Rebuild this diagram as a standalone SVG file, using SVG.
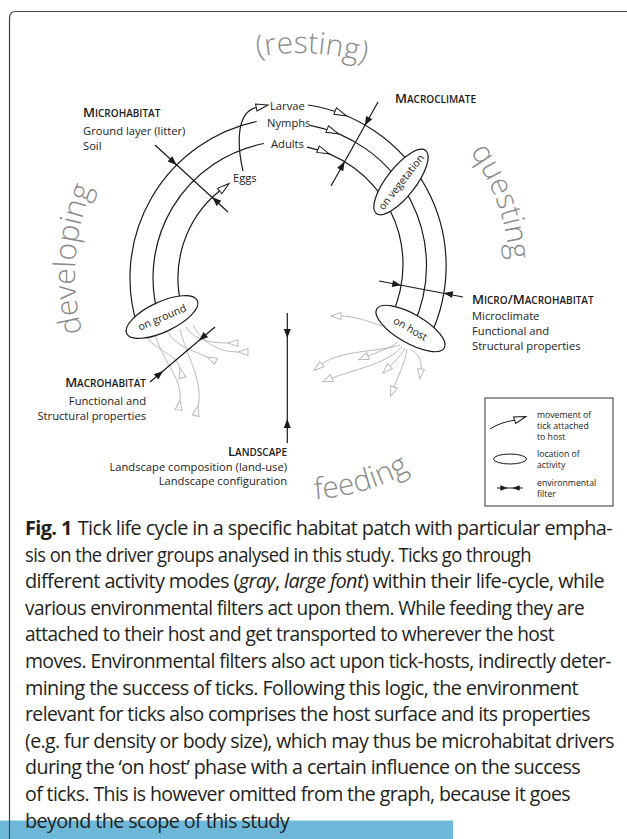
<svg xmlns="http://www.w3.org/2000/svg" width="627" height="839" viewBox="0 0 627 839">
<style>
.arc{fill:none;stroke:#1a1a1a;stroke-width:1.2}
.fl{fill:none;stroke:#1a1a1a;stroke-width:1.2}
.gray{fill:none;stroke:#bababa;stroke-width:1}
.node{fill:#fff;stroke:#1a1a1a;stroke-width:1.2}
.lbl{font-family:"Open Sans","Noto Sans",sans-serif;font-size:11.2px;fill:#222}
.in{font-family:"Open Sans","Noto Sans",sans-serif;font-size:10.5px;fill:#222}
.sc{font-family:"Open Sans","Noto Sans",sans-serif;font-weight:600;font-size:10px;fill:#1a1a1a}
.scb{font-size:13px}
.act{font-family:"Open Sans","Noto Sans",sans-serif;font-weight:300;font-size:30px;fill:#8a8a8a}
.leg{font-family:"Open Sans","Noto Sans",sans-serif;font-size:8.7px;fill:#222}
.cap{font-family:"Open Sans","Noto Sans",sans-serif;font-size:19.5px;letter-spacing:-0.6px;fill:#231f20}
</style>
<defs>
<polygon id="openTri" points="0,0 -12,-3.5 -12,3.5" fill="#fff" stroke="#1a1a1a" stroke-width="1"/>
<polygon id="grayTri" points="0,0 -10,-3.5 -10,3.5" fill="#fff" stroke="#bababa" stroke-width="1"/>
<polygon id="fillTri" points="0,0 -9,-3.5 -9,3.5" fill="#1a1a1a"/>
<path id="pRest" d="M 151.5 110 A 222 222 0 0 1 465 126.5"/>
<path id="pQuest" d="M 388.7 84.7 A 210 210 0 0 1 490.3 363.7"/>
<path id="pDev" d="M 130.2 422.6 A 225 225 0 0 1 152.4 105.2"/>
<path id="pFeed" d="M 192.6 472.7 A 225 225 0 0 0 497.7 382.4"/>
</defs>
<rect width="627" height="839" fill="#fff"/>
<rect x="0" y="820.5" width="453" height="18.5" fill="#6db8d9"/>
<path d="M 9.5 839 V 18 Q 9.5 11.5 16 11.5 H 627" fill="none" stroke="#444" stroke-width="1.2"/>

<g id="activity-modes">
<text class="act" text-anchor="middle"><textPath href="#pRest" startOffset="50%">(resting)</textPath></text>
<text class="act" text-anchor="middle"><textPath href="#pQuest" startOffset="50%">questing</textPath></text>
<text class="act" text-anchor="middle"><textPath href="#pDev" startOffset="50%">developing</textPath></text>
<text class="act" text-anchor="middle"><textPath href="#pFeed" startOffset="50%">feeding</textPath></text>
</g>

<g id="connectors">
<path class="arc" d="M 137.8 327.4 A 160 160 0 0 1 256.7 121.5"/>
<path class="arc" d="M 159 318 A 137 137 0 0 1 263.9 143.5"/>
<path class="arc" d="M 181.8 307 A 112 112 0 0 1 219.5 191"/>
<use href="#openTri" transform="translate(229,183.5) rotate(-39)"/>
<path class="arc" d="M 243 171 C 237 145, 236 112, 256.3 107.5"/>
<use href="#openTri" transform="translate(268,105) rotate(-12)"/>
<path class="arc" d="M 308 105 A 162.7 162.7 0 0 1 430.9 334.6"/>
<path class="arc" d="M 310.1 125.3 A 142.8 142.8 0 0 1 413.1 326"/>
<path class="arc" d="M 307 147.1 A 119.7 119.7 0 0 1 391.8 315"/>
<use href="#openTri" transform="translate(346.2,115.7) rotate(22.7)"/>
<use href="#openTri" transform="translate(338.3,133.7) rotate(22.5)"/>
<use href="#openTri" transform="translate(329.1,153.8) rotate(22.5)"/>

<g id="host-movement">
<path class="gray" d="M 145 332 C 150 350, 176 352, 180 368"/>
<use href="#grayTri" transform="translate(180,368) rotate(256)"/>
<path class="gray" d="M 155 333 C 160 358, 183 378, 180 400"/>
<use href="#grayTri" transform="translate(180,400) rotate(278)"/>
<path class="gray" d="M 167 331 C 175 346, 192 350, 207 357"/>
<use href="#grayTri" transform="translate(207,357) rotate(205)"/>
<path class="gray" d="M 180 329 C 186 355, 204 382, 198 406"/>
<use href="#grayTri" transform="translate(198,406) rotate(284)"/>
<path class="gray" d="M 186 327 C 194 340, 210 343, 228 343"/>
<use href="#grayTri" transform="translate(228,343) rotate(180)"/>
<path class="gray" d="M 193 325 C 203 345, 222 352, 238 352"/>
<use href="#grayTri" transform="translate(238,352) rotate(180)"/>

<path class="gray" d="M 382 326 C 370 322, 355 316, 341 316"/>
<use href="#grayTri" transform="translate(331,316) rotate(180)"/>
<path class="gray" d="M 398 342 C 390 348, 378 352, 368 356"/>
<use href="#grayTri" transform="translate(358.7,359.7) rotate(158)"/>
<path class="gray" d="M 400 345 C 380 352, 340 350, 322 364"/>
<use href="#grayTri" transform="translate(314.1,370.2) rotate(142)"/>
<path class="gray" d="M 402 347 C 385 365, 352 370, 332 378"/>
<use href="#grayTri" transform="translate(322.7,381.7) rotate(158)"/>
<path class="gray" d="M 405 348 C 400 357, 394 362, 390 366"/>
<use href="#grayTri" transform="translate(382.9,373.1) rotate(135)"/>
<path class="gray" d="M 407 349 C 405 363, 398 376, 394 387"/>
<use href="#grayTri" transform="translate(390.6,396.4) rotate(110)"/>
<path class="gray" d="M 410 349 C 419 354, 422 361, 421 369"/>
<use href="#grayTri" transform="translate(419.8,378.9) rotate(97)"/>
</g>

<g id="filters">
<line class="fl" x1="155" y1="145" x2="228" y2="212"/>
<use href="#fillTri" transform="translate(176.6,165) rotate(42.5)"/>
<use href="#fillTri" transform="translate(212.3,197.3) rotate(222.5)"/>
<line class="fl" x1="378" y1="102" x2="331" y2="186"/>
<use href="#fillTri" transform="translate(364.8,125.5) rotate(119.2)"/>
<use href="#fillTri" transform="translate(344.6,161.6) rotate(-60.8)"/>
<line class="fl" x1="379" y1="281" x2="463" y2="297"/>
<use href="#fillTri" transform="translate(401.2,285.3) rotate(10.8)"/>
<use href="#fillTri" transform="translate(443.8,292.9) rotate(190.8)"/>
<line class="fl" x1="215" y1="327" x2="150" y2="382"/>
<use href="#fillTri" transform="translate(199,340.5) rotate(139.8)"/>
<use href="#fillTri" transform="translate(163,371) rotate(-40.2)"/>
<line class="fl" x1="287.3" y1="313" x2="287.3" y2="443"/>
<use href="#fillTri" transform="translate(287.3,338) rotate(90)"/>
<use href="#fillTri" transform="translate(287.3,419) rotate(-90)"/>
</g>
</g>

<g id="stage-labels">
<text class="lbl" x="233" y="182">Eggs</text>
<text class="lbl" x="270" y="110">Larvae</text>
<text class="lbl" x="267" y="127">Nymphs</text>
<text class="lbl" x="271" y="148">Adults</text>
</g>

<g id="on-ground">
<ellipse class="node" cx="162" cy="317" rx="39" ry="15" transform="rotate(-25 162 317)"/>
<text class="in" text-anchor="middle" transform="translate(162,317) rotate(-23)" y="4">on ground</text>
</g>
<g id="on-vegetation">
<ellipse class="node" cx="401" cy="182" rx="40" ry="14.5" transform="rotate(-52 401 182)"/>
<text class="in" text-anchor="middle" transform="translate(401,182) rotate(-52)" y="3.8">on vegetation</text>
</g>
<g id="on-host">
<ellipse class="node" cx="410.5" cy="328.5" rx="39" ry="14.5" transform="rotate(30 410.5 328.5)"/>
<text class="in" text-anchor="middle" transform="translate(410.5,328.5) rotate(30)" y="4">on host</text>
</g>

<g id="microhabitat">
<text class="sc" x="83" y="116.7"><tspan class="scb">M</tspan>ICROHABITAT</text>
<text class="lbl" x="83" y="135">Ground layer (litter)</text>
<text class="lbl" x="83" y="150">Soil</text>
</g>
<g id="macroclimate">
<text class="sc" x="395" y="103.3"><tspan class="scb">M</tspan>ACROCLIMATE</text>
</g>
<g id="micro-macrohabitat">
<text class="sc" x="472" y="304"><tspan class="scb">M</tspan>ICRO<tspan class="scb">/M</tspan>ACROHABITAT</text>
<text class="lbl" x="472" y="319.5">Microclimate</text>
<text class="lbl" x="472" y="334.5">Functional and</text>
<text class="lbl" x="472" y="349.5">Structural properties</text>
</g>
<g id="macrohabitat">
<text class="sc" x="146" y="387.3" text-anchor="end"><tspan class="scb">M</tspan>ACROHABITAT</text>
<text class="lbl" x="146" y="405" text-anchor="end">Functional and</text>
<text class="lbl" x="146" y="419.5" text-anchor="end">Structural properties</text>
</g>
<g id="landscape">
<text class="sc" x="287" y="455.5" text-anchor="end"><tspan class="scb">L</tspan>ANDSCAPE</text>
<text class="lbl" x="287" y="471" text-anchor="end">Landscape composition (land-use)</text>
<text class="lbl" x="287" y="485" text-anchor="end">Landscape configuration</text>
</g>

<g id="legend">
<rect x="485" y="398" width="128" height="108" fill="#fff" stroke="#333" stroke-width="1"/>
<path class="arc" d="M 490 429 C 498 424, 506 421.5, 514.6 420.2" style="stroke-width:1"/>
<use href="#openTri" transform="translate(526,416.5) rotate(-18)"/>
<text class="leg" x="537" y="418">movement of</text>
<text class="leg" x="537" y="429">tick attached</text>
<text class="leg" x="537" y="440">to host</text>
<ellipse cx="510" cy="459" rx="16.5" ry="5" fill="#fff" stroke="#1a1a1a" stroke-width="1"/>
<text class="leg" x="537" y="457">location of</text>
<text class="leg" x="537" y="468">activity</text>
<line x1="497" y1="488" x2="523" y2="488" stroke="#1a1a1a" stroke-width="1"/>
<use href="#fillTri" transform="translate(507.5,488) scale(0.8)"/>
<use href="#fillTri" transform="translate(512.5,488) rotate(180) scale(0.8)"/>
<text class="leg" x="537" y="486">environmental</text>
<text class="leg" x="537" y="497">filter</text>
</g>

<g id="caption">
<text class="cap" x="25" y="535" textLength="587" lengthAdjust="spacingAndGlyphs"><tspan font-weight="700">Fig. 1</tspan><tspan dx="6">Tick life cycle in a specific habitat patch with particular empha-</tspan></text>
<text class="cap" x="25" y="561.6" textLength="506" lengthAdjust="spacingAndGlyphs">sis on the driver groups analysed in this study. Ticks go through</text>
<text class="cap" x="25" y="588.2" textLength="579" lengthAdjust="spacingAndGlyphs">different activity modes (<tspan font-style="italic">gray</tspan>, <tspan font-style="italic">large font</tspan>) within their life-cycle, while</text>
<text class="cap" x="25" y="614.8" textLength="559" lengthAdjust="spacingAndGlyphs">various environmental filters act upon them. While feeding they are</text>
<text class="cap" x="25" y="641.4" textLength="529" lengthAdjust="spacingAndGlyphs">attached to their host and get transported to wherever the host</text>
<text class="cap" x="25" y="668" textLength="586" lengthAdjust="spacingAndGlyphs">moves. Environmental filters also act upon tick-hosts, indirectly deter-</text>
<text class="cap" x="25" y="694.6" textLength="553" lengthAdjust="spacingAndGlyphs">mining the success of ticks. Following this logic, the environment</text>
<text class="cap" x="25" y="721.2" textLength="565" lengthAdjust="spacingAndGlyphs">relevant for ticks also comprises the host surface and its properties</text>
<text class="cap" x="25" y="747.8" textLength="589" lengthAdjust="spacingAndGlyphs">(e.g. fur density or body size), which may thus be microhabitat drivers</text>
<text class="cap" x="25" y="774.4" textLength="555" lengthAdjust="spacingAndGlyphs">during the ‘on host’ phase with a certain influence on the success</text>
<text class="cap" x="25" y="801" textLength="545" lengthAdjust="spacingAndGlyphs">of ticks. This is however omitted from the graph, because it goes</text>
<text class="cap" x="25" y="827.6" textLength="264" lengthAdjust="spacingAndGlyphs">beyond the scope of this study</text>
</g>
</svg>
